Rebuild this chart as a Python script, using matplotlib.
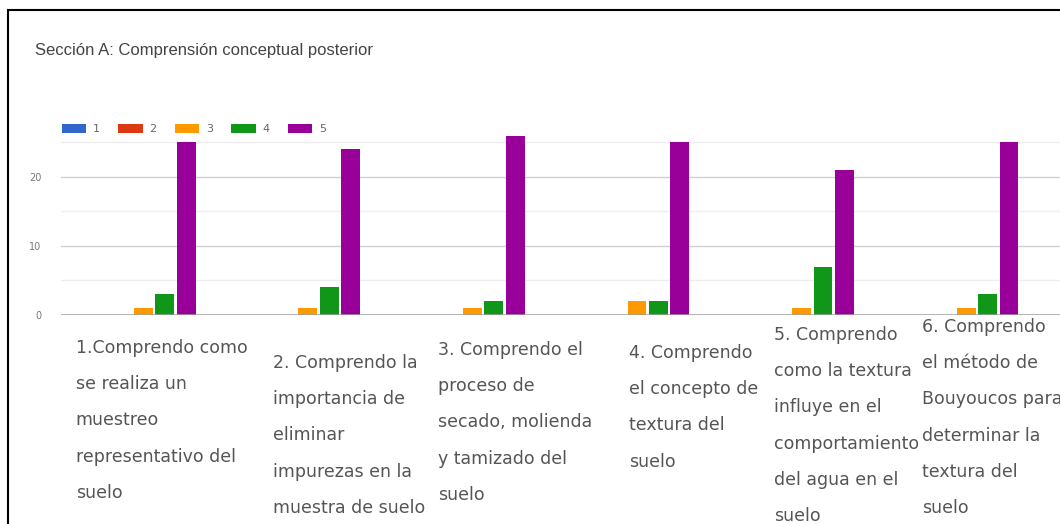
import matplotlib.pyplot as plt
import matplotlib.patches as mpatches
import matplotlib.transforms as mtransforms
import numpy as np

'''
Survey results: "Sección A: Comprensión conceptual posterior"
'''

title = 'Sección A: Comprensión conceptual posterior'
questions = [
    '1.Comprendo como\nse realiza un\nmuestreo\nrepresentativo del\nsuelo',
    '2. Comprendo la\nimportancia de\neliminar\nimpurezas en la\nmuestra de suelo',
    '3. Comprendo el\nproceso de\nsecado, molienda\ny tamizado del\nsuelo',
    '4. Comprendo\nel concepto de\ntextura del\nsuelo',
    '5. Comprendo\ncomo la textura\ninfluye en el\ncomportamiento\ndel agua en el\nsuelo',
    '6. Comprendo\nel método de\nBouyoucos para\ndeterminar la\ntextura del\nsuelo',
]
series_names = ['1', '2', '3', '4', '5']
answers_1 = [0, 0, 0, 0, 0, 0]
answers_2 = [0, 0, 0, 0, 0, 0]
answers_3 = [1, 1, 1, 2, 1, 1]
answers_4 = [3, 4, 2, 2, 7, 3]
answers_5 = [25, 24, 26, 25, 21, 25]
y_ticks = [0, 10, 20]

colors = ['#3366cc', '#dc3912', '#ff9900', '#109618', '#990099']

W, H = 1060, 524
fig = plt.figure(figsize=(W / 100, H / 100), dpi=100)

# axes placed in pixels: left 61, zero line at y=315, top at ~128
ax = fig.add_axes([61 / W, 1 - 315 / H, (W - 61) / W, (315 - 128) / H])

x = np.arange(len(questions))
step = 0.13
width = 0.115
all_series = [answers_1, answers_2, answers_3, answers_4, answers_5]
handles = []
for i, (vals, c, name) in enumerate(zip(all_series, colors, series_names)):
    b = ax.bar(x + (i - 2) * step, vals, width, color=c, label=name, zorder=3)
    handles.append(b)

ax.set_xlim(-0.5, 5.57)
ax.set_ylim(0, 27.1)

# grid lines
ax.set_yticks(y_ticks)
ax.set_yticks([5, 15, 25], minor=True)
ax.grid(axis='y', which='major', color='#d0d0d0', lw=1, zorder=0)
ax.grid(axis='y', which='minor', color='#eeeeee', lw=1, zorder=0)
ax.axhline(0, color='#a0a0a0', lw=1.8, zorder=4)
ax.tick_params(axis='y', which='both', length=0, labelsize=7, labelcolor='#777777', pad=14)
ax.tick_params(axis='x', length=0, labelbottom=False)
for s in ax.spines.values():
    s.set_visible(False)

# wrapped question labels under each group
label_dx = [-0.41, -0.21, -0.21, -0.05, -0.17, -0.27]
label_top = [339, 354, 341, 344, 326, 318]
trans = mtransforms.blended_transform_factory(ax.transData, fig.transFigure)
for i, q in enumerate(questions):
    ax.text(x[i] + label_dx[i], 1 - label_top[i] / H, q, transform=trans,
            ha='left', va='top', fontsize=12.5, color='#555555',
            family='DejaVu Sans', linespacing=2.3, clip_on=False)

fig.text(35 / W, 1 - 50 / H, title, ha='left', va='center', fontsize=12,
         color='#444444', family='Liberation Sans')

ax.legend(handles=handles, loc='center left', ncol=5, frameon=False,
          bbox_to_anchor=(62 / W, 1 - 129 / H), bbox_transform=fig.transFigure,
          borderpad=0, borderaxespad=0, fontsize=8, labelcolor='#666666',
          handlelength=2.2, handleheight=0.9, handletextpad=0.6,
          columnspacing=1.65)

# screenshot frame
fig.patches.append(mpatches.Rectangle((8 / W, -0.1), 1.2, 1.1 - 10 / H,
                                      fill=False, ec='black', lw=1.5,
                                      transform=fig.transFigure))

fig.savefig('out.png', dpi=100)
